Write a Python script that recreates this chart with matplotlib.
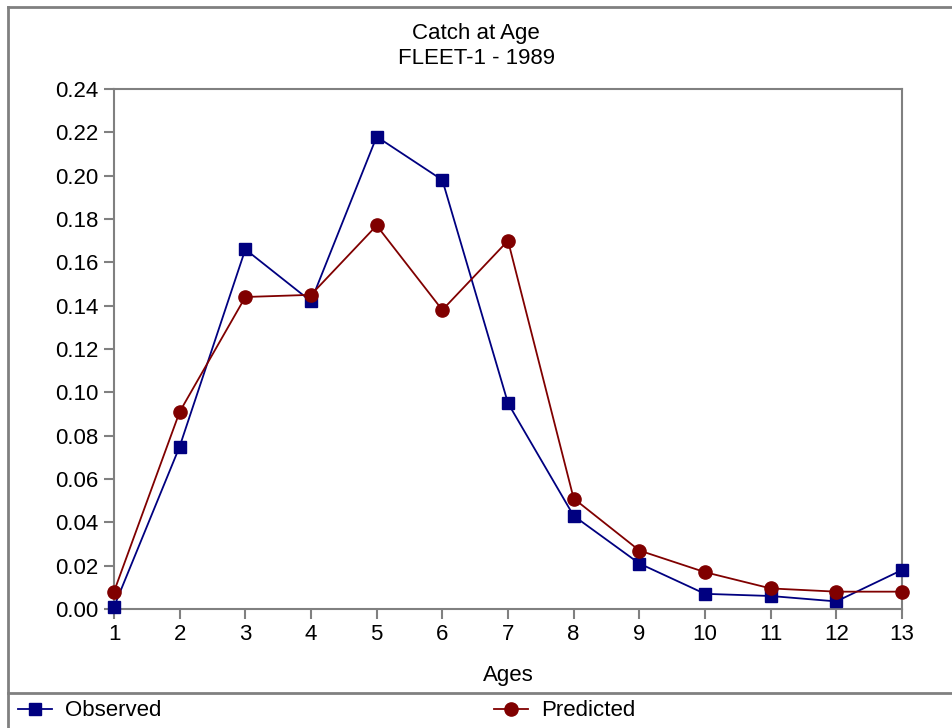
import matplotlib.pyplot as plt
from matplotlib.lines import Line2D

plt.rcParams['font.family'] = ['Liberation Sans', 'DejaVu Sans']

ages = [1, 2, 3, 4, 5, 6, 7, 8, 9, 10, 11, 12, 13]
observed = [0.001, 0.075, 0.166, 0.142, 0.218, 0.198, 0.095, 0.043, 0.021, 0.007, 0.006, 0.0035, 0.018]
predicted = [0.008, 0.091, 0.144, 0.145, 0.177, 0.138, 0.170, 0.051, 0.027, 0.017, 0.0095, 0.008, 0.008]
yticks = [0.00, 0.02, 0.04, 0.06, 0.08, 0.10, 0.12, 0.14, 0.16, 0.18, 0.20, 0.22, 0.24]

blue = '#000080'
red = '#800000'
grey = '#808080'
fs = 16

fig = plt.figure(figsize=(9.52, 7.28), dpi=100)
ax = fig.add_axes([114/952, 1 - 609/728, (902 - 114)/952, (609 - 89)/728])

ax.plot(ages, observed, color=blue, lw=1.3, marker='s', ms=9, zorder=3, clip_on=False)
ax.plot(ages, predicted, color=red, lw=1.3, marker='o', ms=9.5, zorder=3, clip_on=False)

ax.set_xlim(1, 13)
ax.set_ylim(0, 0.24)
ax.set_xticks(ages)
ax.set_yticks(yticks)
ax.set_yticklabels(['%.2f' % v for v in yticks])
ax.tick_params(axis='both', labelsize=fs, color=grey, width=1.5, length=7, pad=4)
for s in ax.spines.values():
    s.set_color(grey)
    s.set_linewidth(1.5)

ax.set_xlabel('Ages', fontsize=fs, labelpad=14)
fig.text(0.5, 1 - 33/728, 'Catch at Age', ha='center', va='center', fontsize=fs)
fig.text(0.5, 1 - 58/728, 'FLEET-1 - 1989', ha='center', va='center', fontsize=fs)

# outer frame and legend separator
fig.add_artist(Line2D([8/952, 8/952], [0, 1 - 7/728], color=grey, lw=2))
fig.add_artist(Line2D([8/952, 1], [1 - 7/728, 1 - 7/728], color=grey, lw=2))
fig.add_artist(Line2D([8/952, 1], [1 - 693/728, 1 - 693/728], color=grey, lw=2))

h1 = Line2D([], [], color=blue, lw=1.3, marker='s', ms=9)
h2 = Line2D([], [], color=red, lw=1.3, marker='o', ms=9.5)
for h, lab, x0 in [(h1, 'Observed', 18/952), (h2, 'Predicted', 494/952)]:
    fig.legend(handles=[h], labels=[lab], loc='center left',
               bbox_to_anchor=(x0, 1 - 711/728), frameon=False,
               fontsize=fs, handlelength=1.55, handletextpad=0.55,
               borderaxespad=0, borderpad=0)

fig.savefig('out.png', dpi=100)
